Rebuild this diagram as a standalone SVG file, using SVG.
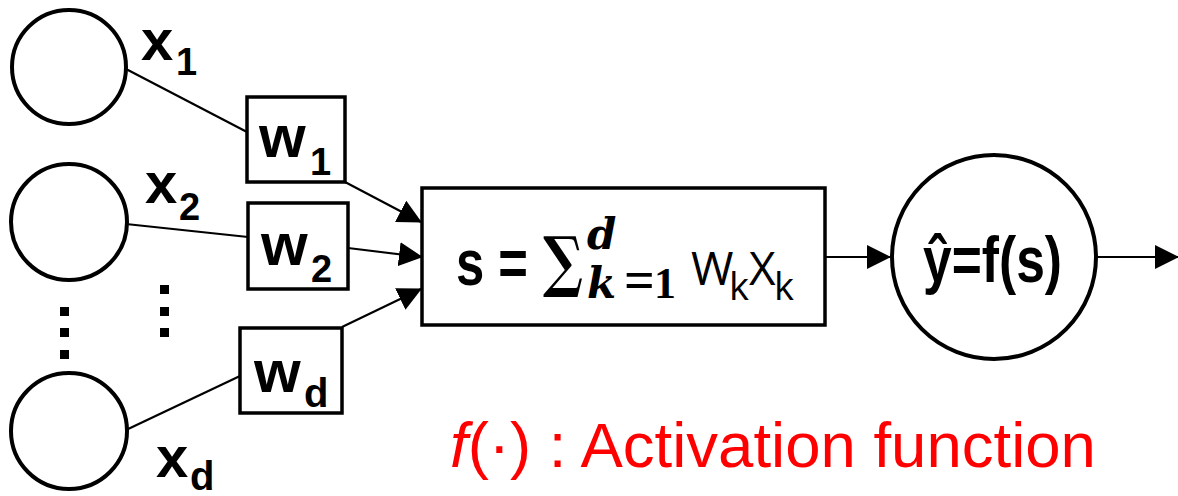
<svg xmlns="http://www.w3.org/2000/svg" width="1178" height="496" viewBox="0 0 1178 496">
<style>
.node{fill:#fff;stroke:#000;stroke-width:4}
.box{fill:#fff;stroke:#000;stroke-width:3.5}
.conn{stroke:#000;stroke-width:2.2;fill:none}
.lbl{font-family:"Liberation Sans",Arial,sans-serif;font-weight:bold;fill:#000}
.math{font-family:"DejaVu Serif","Liberation Serif",serif;font-weight:bold;fill:#000}
.tm{font-family:"Liberation Serif","Times New Roman",serif;font-weight:bold;fill:#000}
.cal{font-family:"Open Sans","Liberation Sans",sans-serif;fill:#000}
.red{font-family:"Liberation Sans",Arial,sans-serif;fill:#ff0000}
</style>
<defs>
<marker id="ah" markerUnits="userSpaceOnUse" markerWidth="24" markerHeight="24" refX="23" refY="12" orient="auto">
<path d="M0,0 L24,12 L0,24 z" fill="#000"/>
</marker>
</defs>
<g id="connectors">
<line class="conn" x1="126" y1="69" x2="247" y2="132"/>
<line class="conn" x1="126" y1="224" x2="248" y2="237"/>
<line class="conn" x1="126" y1="430" x2="240" y2="376"/>
<line class="conn" x1="345" y1="182" x2="421" y2="222" marker-end="url(#ah)"/>
<line class="conn" x1="348" y1="248" x2="422" y2="257" marker-end="url(#ah)"/>
<line class="conn" x1="342" y1="327" x2="421" y2="289" marker-end="url(#ah)"/>
<line class="conn" x1="825" y1="257" x2="890" y2="257" marker-end="url(#ah)"/>
<line class="conn" x1="1097" y1="257" x2="1178" y2="257" marker-end="url(#ah)"/>
</g>
<g id="x1">
<circle class="node" cx="69" cy="67" r="57"/>
<text class="lbl" x="141" y="60" font-size="58">x</text>
<text class="lbl" x="176" y="75" font-size="38">1</text>
</g>
<g id="x2">
<circle class="node" cx="69" cy="222" r="58"/>
<text class="lbl" x="145" y="203" font-size="58">x</text>
<text class="lbl" x="179" y="220" font-size="38">2</text>
</g>
<g id="xd">
<circle class="node" cx="69" cy="431" r="58"/>
<text class="lbl" x="156" y="477" font-size="58">x</text>
<text class="lbl" x="190" y="490" font-size="40">d</text>
</g>
<g id="dots">
<rect x="60" y="307" width="9" height="9"/>
<rect x="60" y="328" width="9" height="9"/>
<rect x="60" y="350" width="9" height="9"/>
<rect x="160" y="285" width="9" height="9"/>
<rect x="160" y="307" width="9" height="9"/>
<rect x="160" y="328" width="9" height="9"/>
</g>
<g id="w1">
<rect class="box" x="247" y="97" width="98" height="85"/>
<text class="lbl" x="259" y="157" font-size="60">w</text>
<text class="lbl" x="310" y="175" font-size="38">1</text>
</g>
<g id="w2">
<rect class="box" x="248" y="203" width="100" height="86"/>
<text class="lbl" x="261" y="265" font-size="60">w</text>
<text class="lbl" x="311" y="282" font-size="38">2</text>
</g>
<g id="wd">
<rect class="box" x="240" y="328" width="102" height="85"/>
<text class="lbl" x="254" y="392" font-size="60">w</text>
<text class="lbl" x="304" y="407" font-size="40">d</text>
</g>
<g id="sum">
<rect class="box" x="422" y="188" width="403" height="137"/>
<text class="lbl" x="456" y="285" font-size="64" textLength="72" lengthAdjust="spacingAndGlyphs">s =</text>
<text class="math" x="543" y="284" font-size="66" font-weight="normal" textLength="40" lengthAdjust="spacingAndGlyphs">∑</text>
<text class="math" x="587" y="249" font-size="42" font-style="italic">d</text>
<text class="math" x="587" y="298" font-size="42" font-style="italic">k</text>
<text class="tm" x="624" y="298" font-size="54">=</text>
<text class="tm" x="654" y="298" font-size="44">1</text>
<text class="cal" x="691" y="285" font-size="46">W</text>
<text class="cal" x="729" y="300" font-size="38">k</text>
<text class="cal" x="749" y="285" font-size="46">X</text>
<text class="cal" x="774" y="300" font-size="38">k</text>
</g>
<g id="yhat">
<circle class="node" cx="994" cy="257" r="102"/>
<text class="lbl" x="923" y="282" font-size="64" textLength="139" lengthAdjust="spacingAndGlyphs">ŷ=f(s)</text>
</g>
<g id="note">
<text class="red" x="450" y="467" font-size="63.5"><tspan font-style="italic">f</tspan>(·) : Activation function</text>
</g>
</svg>
